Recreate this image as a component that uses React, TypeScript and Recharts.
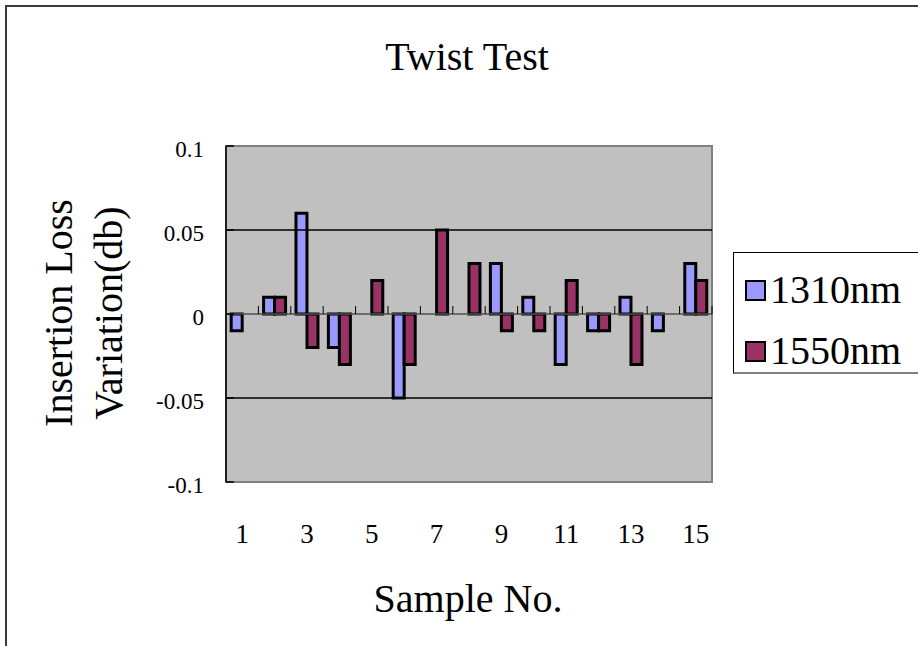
import React from 'react';
import { BarChart, Bar, XAxis, YAxis, ReferenceArea, ReferenceLine } from 'recharts';

// sample numbers along the x axis
const samples = ['1', '2', '3', '4', '5', '6', '7', '8', '9', '10', '11', '12', '13', '14', '15'];
// insertion loss variation (dB) per sample
const loss1310 = [-0.01, 0.01, 0.06, -0.02, 0, -0.05, 0, 0, 0.03, 0.01, -0.03, -0.01, 0.01, -0.01, 0.03];
const loss1550 = [0, 0.01, -0.02, -0.03, 0.02, -0.03, 0.05, 0.03, -0.01, -0.01, 0.02, -0.01, -0.03, 0, 0.02];
const yTicks = [-0.1, -0.05, 0, 0.05, 0.1];
const gridValues = [-0.05, 0.05];

const series = [
  { key: 'nm1310', name: '1310nm', color: '#9999ff' },
  { key: 'nm1550', name: '1550nm', color: '#993366' },
];

const FONT = "'Liberation Serif', 'Times New Roman', Times, 'DejaVu Serif', serif";
const W = 918;
const H = 646;
const PLOT_LEFT = 226;
const PLOT_TOP = 146;
const PLOT_RIGHT = 712;
const PLOT_BOTTOM = 482;
const Y_MIN = -0.1;
const Y_MAX = 0.1;
const ZERO_Y = PLOT_TOP + ((PLOT_BOTTOM - PLOT_TOP) * (Y_MAX - 0)) / (Y_MAX - Y_MIN);

const data = samples.map((s, i) => ({ sample: s, nm1310: loss1310[i], nm1550: loss1550[i] }));

const XTick = (props: any) => {
  const { x, y, payload, index } = props;
  const half = payload?.offset ?? (PLOT_RIGHT - PLOT_LEFT) / samples.length / 2;
  return (
    <g>
      {index % 2 === 0 && (
        <text x={x} y={y + 61} textAnchor="middle" fontSize={27} style={{ fontFamily: FONT }} fill="#000">
          {payload.value}
        </text>
      )}
      <line x1={x + half} x2={x + half} y1={ZERO_Y - 8} y2={ZERO_Y} stroke="#000" strokeWidth={1} />
    </g>
  );
};

const YTick = (props: any) => {
  const { x, y, payload } = props;
  return (
    <g>
      <text x={x} y={y + 11} textAnchor="end" fontSize={23} style={{ fontFamily: FONT }} fill="#000">
        {String(payload.value)}
      </text>
      <line x1={x + 22} x2={x + 30} y1={y} y2={y} stroke="#000" strokeWidth={1.5} />
    </g>
  );
};

export default function App() {
  return (
    <div style={{ position: 'absolute', left: 0, top: 0, width: W, height: H, overflow: 'hidden', background: '#fff', fontFamily: FONT }}>
      <div style={{ position: 'absolute', left: 5, top: 5, width: 1000, height: 1000, border: '2px solid #3a3a3a' }} />

      <div style={{ position: 'absolute', left: 0, width: 934, top: 34, textAlign: 'center', fontSize: 40, lineHeight: '46px' }}>
        Twist Test
      </div>

      <div
        style={{
          position: 'absolute',
          left: 84 - 160,
          top: 313 - 50,
          width: 320,
          height: 100,
          transform: 'rotate(-90deg)',
          textAlign: 'center',
          fontSize: 40,
          lineHeight: '50px',
        }}
      >
        Insertion Loss
        <br />
        Variation(db)
      </div>

      <div style={{ position: 'absolute', left: 0, width: 936, top: 576, textAlign: 'center', fontSize: 40, lineHeight: '46px' }}>
        Sample No.
      </div>

      <div style={{ position: 'absolute', left: 0, top: 0 }}>
        <BarChart
          width={W}
          height={H}
          data={data}
          margin={{ top: PLOT_TOP, right: W - PLOT_RIGHT, bottom: H - PLOT_BOTTOM - 40, left: 0 }}
          barCategoryGap="16%"
          barGap={0}
        >
          <XAxis dataKey="sample" height={40} axisLine={false} tickLine={false} tickSize={0} tickMargin={0} interval={0} tick={<XTick />} />
          <YAxis
            width={PLOT_LEFT}
            domain={[Y_MIN, Y_MAX]}
            ticks={yTicks}
            axisLine={{ stroke: '#000', strokeWidth: 1.5 }}
            tickLine={false}
            tickSize={0}
            tickMargin={22}
            tick={<YTick />}
          />
          <ReferenceArea y1={Y_MIN} y2={Y_MAX} fill="#c0c0c0" fillOpacity={1} stroke="#808080" strokeWidth={2} />
          {gridValues.map((v) => (
            <ReferenceLine key={v} y={v} stroke="#000" strokeWidth={1.5} />
          ))}
          <ReferenceLine y={0} stroke="#505050" strokeWidth={1.5} />
          {series.map((s) => (
            <Bar key={s.key} dataKey={s.key} name={s.name} fill={s.color} stroke="#000" strokeWidth={3} isAnimationActive={false} />
          ))}
        </BarChart>
      </div>

      <div
        style={{
          position: 'absolute',
          left: 733,
          top: 252,
          width: 220,
          height: 119,
          borderTop: '1px solid #000',
          borderLeft: '1px solid #000',
          borderBottom: '2px solid #808080',
          background: '#fff',
        }}
      >
        {series.map((s, i) => (
          <div key={s.key} style={{ position: 'absolute', left: 11, top: 14 + i * 61, height: 46, display: 'flex', alignItems: 'center' }}>
            <div style={{ width: 17, height: 17, background: s.color, border: '2px solid #000' }} />
            <span style={{ marginLeft: 4, fontSize: 40, lineHeight: '46px' }}>{s.name}</span>
          </div>
        ))}
      </div>
    </div>
  );
}
